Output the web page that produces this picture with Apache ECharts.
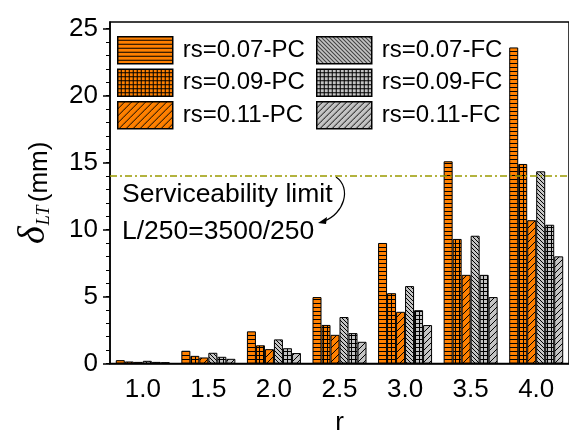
<!DOCTYPE html>
<html>
<head>
<meta charset="utf-8">
<script src="https://cdn.jsdelivr.net/npm/echarts@6/dist/echarts.min.js"></script>
<style>
html, body { margin: 0; padding: 0; background: #fff; }
#chart { width: 569px; height: 444px; }
</style>
</head>
<body>
<div id="chart"></div>
<script>
// data
const categories = ['1.0', '1.5', '2.0', '2.5', '3.0', '3.5', '4.0'];
const pc007 = [0.25, 0.95, 2.4, 4.96, 9.0, 15.1, 23.6];
const pc009 = [0.15, 0.57, 1.36, 2.88, 5.25, 9.3, 14.9];
const pc011 = [0.12, 0.45, 1.07, 2.14, 3.86, 6.62, 10.7];
const fc007 = [0.2, 0.8, 1.8, 3.47, 5.78, 9.54, 14.35];
const fc009 = [0.12, 0.5, 1.14, 2.27, 3.98, 6.62, 10.36];
const fc011 = [0.1, 0.35, 0.78, 1.62, 2.87, 4.96, 8.0];
const yTicks = [0, 5, 10, 15, 20, 25];
const yMinorTicks = Array.from({ length: 26 }, (_, i) => i);
const limit = 14; // L/250 = 3500/250

const FONT = 'Liberation Sans';
const ORANGE = '#FF8000';
const GRAY = '#C4C4C4';

// hatch fills
function pattern(bg, w, h, draw) {
    const c = document.createElement('canvas');
    c.width = w;
    c.height = h;
    const g = c.getContext('2d');
    g.fillStyle = bg;
    g.fillRect(0, 0, w, h);
    g.fillStyle = '#000';
    g.strokeStyle = '#000';
    g.lineWidth = 1;
    draw(g, w, h);
    return { image: c, repeat: 'repeat' };
}
const hLines = (g, w, h) => g.fillRect(0, h - 1, w, 1);
const grid = (g, w, h) => { g.fillRect(0, h - 1, w, 1); g.fillRect(w - 1, 0, 1, h); };
const slash = (g, w, h) => {
    g.beginPath();
    for (let k = -1; k <= 1; k++) { g.moveTo(k * w, h); g.lineTo(k * w + w, 0); }
    g.stroke();
};
const backslash = (g, w, h) => {
    g.beginPath();
    for (let k = -1; k <= 1; k++) { g.moveTo(k * w, 0); g.lineTo(k * w + w, h); }
    g.stroke();
};

function bar(name, data, fill) {
    return {
        name: name,
        type: 'bar',
        data: data,
        barWidth: 9,
        barGap: '0%',
        itemStyle: { color: fill, borderColor: '#000', borderWidth: 1 },
        emphasis: { disabled: true }
    };
}

const series = [
    bar('rs=0.07-PC', pc007, pattern(ORANGE, 4, 4, hLines)),
    bar('rs=0.09-PC', pc009, pattern(ORANGE, 4, 4, grid)),
    bar('rs=0.11-PC', pc011, pattern(ORANGE, 7, 7, slash)),
    bar('rs=0.07-FC', fc007, pattern(GRAY, 4, 4, backslash)),
    bar('rs=0.09-FC', fc009, pattern(GRAY, 4, 4, grid)),
    bar('rs=0.11-FC', fc011, pattern(GRAY, 6, 6, slash))
];
series[0].markLine = {
    silent: true,
    symbol: 'none',
    label: { show: false },
    lineStyle: { color: '#9A9A00', type: [7, 3, 2, 3], width: 1.5 },
    data: [{ yAxis: limit }]
};

const legendBase = {
    orient: 'vertical',
    top: 36,
    padding: 0,
    icon: 'rect',
    itemWidth: 55,
    itemHeight: 27,
    itemGap: 4,
    selectedMode: false,
    itemStyle: { borderColor: '#000', borderWidth: 1.5 },
    textStyle: { fontSize: 24, fontFamily: FONT, color: '#000', padding: [0, 0, 0, 5] }
};

const axisBlack = { color: '#000', width: 1.5 };

let myChart = echarts.init(document.getElementById('chart'), null, { renderer: 'canvas' });
myChart.setOption({
    animation: false,
    grid: {
        left: 110, top: 22, width: 463.6, height: 341.5,
        show: true, borderColor: '#000', borderWidth: 1.5, backgroundColor: 'transparent'
    },
    legend: [
        Object.assign({}, legendBase, { left: 117, data: ['rs=0.07-PC', 'rs=0.09-PC', 'rs=0.11-PC'] }),
        Object.assign({}, legendBase, { left: 316, data: ['rs=0.07-FC', 'rs=0.09-FC', 'rs=0.11-FC'] })
    ],
    xAxis: [{
        type: 'category',
        data: categories,
        position: 'bottom',
        axisLine: { lineStyle: axisBlack },
        axisTick: { alignWithLabel: true, interval: 0, length: 7, lineStyle: axisBlack },
        axisLabel: { fontSize: 26, fontFamily: FONT, color: '#000', margin: 13, interval: 0 },
        name: 'r',
        nameLocation: 'middle',
        nameGap: 46,
        nameTextStyle: { fontSize: 26, fontFamily: FONT, color: '#000' }
    }, {
        type: 'category',
        data: categories,
        position: 'bottom',
        axisLine: { show: false },
        axisTick: { alignWithLabel: false, interval: 0, length: 4, lineStyle: { color: '#000', width: 1 } },
        axisLabel: { show: false }
    }],
    yAxis: [{
        type: 'value',
        min: 0,
        max: 25.5,
        position: 'left',
        axisLine: { show: true, lineStyle: axisBlack },
        axisTick: { show: true, length: 7, customValues: yTicks, lineStyle: axisBlack },
        splitLine: { show: false },
        axisLabel: { fontSize: 26, fontFamily: FONT, color: '#000', margin: 12, customValues: yTicks },
        name: '{d|δ}{s|LT} {u|(mm)}',
        nameLocation: 'middle',
        nameRotate: 90,
        nameGap: 57,
        nameTextStyle: {
            color: '#000',
            rich: {
                d: { fontSize: 38, fontStyle: 'italic', fontFamily: 'Liberation Serif', color: '#000', verticalAlign: 'bottom' },
                s: { fontSize: 18, fontStyle: 'italic', fontFamily: 'Liberation Serif', color: '#000', verticalAlign: 'bottom', padding: [0, 0, 0, 1] },
                u: { fontSize: 26, fontFamily: FONT, color: '#000', verticalAlign: 'bottom' }
            }
        }
    }, {
        type: 'value',
        min: 0,
        max: 25.5,
        position: 'left',
        axisLine: { show: false },
        axisTick: { show: true, length: 4, customValues: yMinorTicks, lineStyle: { color: '#000', width: 1 } },
        splitLine: { show: false },
        axisLabel: { show: false }
    }],
    series: series,
    graphic: [
        { type: 'text', left: 122, top: 181, style: { text: 'Serviceability limit', font: '26.5px "Liberation Sans"', fill: '#000' } },
        { type: 'text', left: 122, top: 218, style: { text: 'L/250=3500/250', font: '26.5px "Liberation Sans"', fill: '#000' } },
        { type: 'bezierCurve', shape: { x1: 336, y1: 177, cpx1: 352, cpy1: 188, cpx2: 344, cpy2: 214, x2: 324, y2: 221 },
          style: { stroke: '#000', lineWidth: 1.2, fill: null } },
        { type: 'polygon', shape: { points: [[318, 223], [327, 217], [326, 224]] }, style: { fill: '#000' } }
    ]
});
</script>
</body>
</html>
